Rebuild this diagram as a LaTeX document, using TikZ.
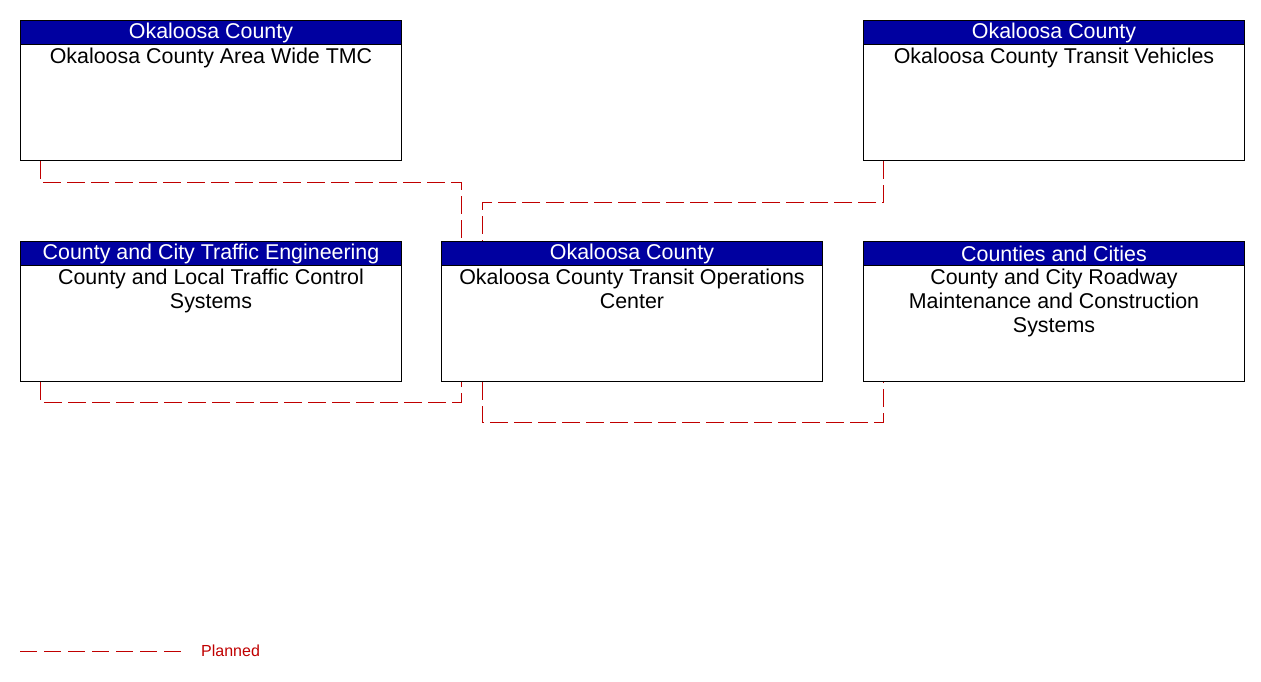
\documentclass[tikz,border=0pt]{standalone}
\usepackage{fontspec}
\setmainfont{Liberation Sans}
\usetikzlibrary{positioning}
\definecolor{hdrblue}{RGB}{0,0,160}
\definecolor{planred}{RGB}{192,0,0}

\begin{document}
\begin{tikzpicture}[
    x=1pt, y=-1pt,
    elem/.style={draw, line width=1pt, minimum width=381pt, minimum height=140pt, anchor=north west, inner sep=0pt},
    hdr/.style={draw, line width=1pt, fill=hdrblue, text=white, minimum width=381pt, minimum height=24pt, anchor=north, inner sep=0pt, font=\fontsize{21.4}{24}\selectfont},
    body/.style={align=center, anchor=north, inner sep=0pt, font=\fontsize{21.4}{24}\selectfont},
    flow/.style={draw=planred, line width=1pt, dash pattern=on 18pt off 6pt}
]
    \useasboundingbox (0,0) rectangle (1261,682);

    % Top row
    \node[elem] (tmc) at (20,20) {};
    \node[hdr] (tmchdr) at (tmc.north) {Okaloosa County};
    \node[body] (tmctxt) at ([yshift=-28pt]tmc.north) {Okaloosa County Area Wide TMC};

    \node[elem] (veh) at (863,20) {};
    \node[hdr] (vehhdr) at (veh.north) {Okaloosa County};
    \node[body] (vehtxt) at ([yshift=-28pt]veh.north) {Okaloosa County Transit Vehicles};

    % Middle row
    \node[elem] (tcs) at (20,241) {};
    \node[hdr] (tcshdr) at (tcs.north) {County and City Traffic Engineering};
    \node[body] (tcstxt) at ([yshift=-28pt]tcs.north) {County and Local Traffic Control\\Systems};

    \node[elem] (toc) at (441,241) {};
    \node[hdr] (tochdr) at (toc.north) {Okaloosa County};
    \node[body] (toctxt) at ([yshift=-28pt]toc.north) {Okaloosa County Transit Operations\\Center};

    \node[elem] (rms) at (863,241) {};
    \node[hdr] (rmshdr) at (rms.north) {Counties and Cities};
    \node[body] (rmstxt) at ([yshift=-28pt]rms.north) {County and City Roadway\\Maintenance and Construction\\Systems};

    % Flows
    \draw[flow] ([xshift=20pt]tmc.south west) -- ++(0,21) -| ([xshift=20pt]toc.north west);
    \draw[flow] ([xshift=20pt]veh.south west) -- ++(0,41) -| ([xshift=41pt]toc.north west);
    \draw[flow] ([xshift=20pt]tcs.south west) -- ++(0,20) -| ([xshift=20pt]toc.south west);
    \draw[flow] ([xshift=41pt]toc.south west) -- ++(0,40) -| ([xshift=20pt]rms.south west);

    % Legend
    \coordinate (lgstart) at (20,651);
    \coordinate (lgend) at (181,651);
    \draw[flow, dash pattern=on 17pt off 7pt] (lgstart) -- (lgend);
    \node[anchor=west, inner sep=0pt, text=planred, font=\fontsize{16}{19}\selectfont] (lgtxt) at (201,651) {Planned};
\end{tikzpicture}
\end{document}
